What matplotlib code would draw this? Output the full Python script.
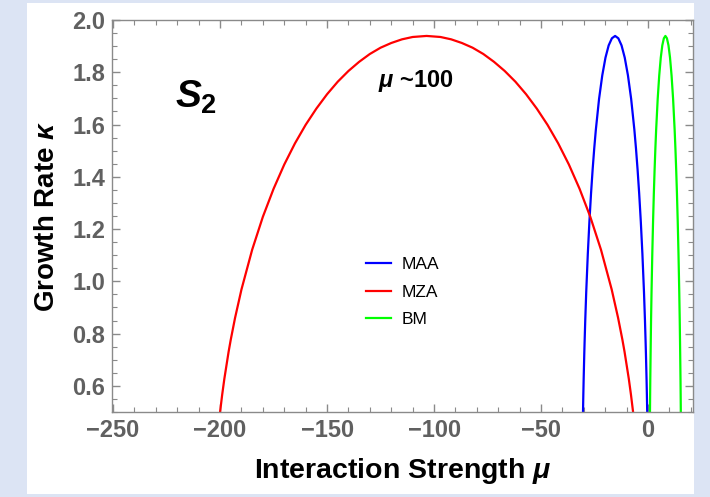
import matplotlib
matplotlib.use("Agg")
import matplotlib.pyplot as plt
from matplotlib.patches import Rectangle

plt.rcParams['font.family'] = ['Liberation Sans', 'DejaVu Sans']
plt.rcParams['mathtext.fontset'] = 'custom'
plt.rcParams['mathtext.it'] = 'Liberation Sans:italic:bold'
plt.rcParams['mathtext.rm'] = 'Liberation Sans:bold'
plt.rcParams['mathtext.bf'] = 'Liberation Sans:bold'

# growth rate curves
mu_mza = [-200, -199, -198, -196, -195, -193, -190, -185, -180, -175, -170, -165,
          -160, -155, -150, -145, -140, -135, -130, -125, -120, -115, -110, -103.5,
          -97, -92, -87, -82, -77, -72, -67, -62, -57, -52, -47, -42, -37, -32,
          -27, -22, -17, -14, -12, -11, -9, -8, -7]
kappa_mza = [0.50, 0.567, 0.627, 0.731, 0.777, 0.860, 0.969, 1.121, 1.247, 1.354,
             1.447, 1.528, 1.599, 1.661, 1.716, 1.764, 1.805, 1.840, 1.870, 1.894,
             1.912, 1.926, 1.935, 1.939,
             1.935, 1.926, 1.912, 1.894, 1.870, 1.840, 1.805, 1.764, 1.716, 1.661,
             1.599, 1.528, 1.447, 1.354, 1.247, 1.121, 0.969, 0.860, 0.777, 0.731,
             0.627, 0.567, 0.50]

mu_maa = [-30.4, -30.25, -30.1, -29.8, -29.65, -29.35, -28.9, -28.15, -27.4, -26.65,
          -25.9, -25.15, -24.4, -22.9, -21.4, -19.9, -18.4, -16.9, -15.4, -13.9,
          -12.4, -10.9, -9.4, -7.9, -6.4, -5.65, -4.9, -4.15, -3.4, -2.65, -1.9,
          -1.45, -1.15, -1.0, -0.7, -0.55, -0.4]
kappa_maa = [0.50, 0.566, 0.624, 0.725, 0.769, 0.851, 0.958, 1.106, 1.230, 1.336,
             1.428, 1.509, 1.580, 1.698, 1.788, 1.856, 1.903, 1.930, 1.939, 1.930,
             1.903, 1.856, 1.788, 1.698, 1.580, 1.509, 1.428, 1.336, 1.230, 1.106,
             0.958, 0.851, 0.769, 0.725, 0.624, 0.566, 0.50]

mu_bm = [0.9, 0.97, 1.04, 1.19, 1.26, 1.40, 1.62, 1.98, 2.34, 2.7, 3.06, 3.42, 3.78,
         4.5, 5.22, 5.94, 6.66, 7.38, 8.1, 8.82, 9.54, 10.26, 10.98, 11.7, 12.42,
         12.78, 13.14, 13.5, 13.86, 14.22, 14.58, 14.8, 14.94, 15.01, 15.16, 15.23, 15.3]
kappa_bm = [0.50, 0.566, 0.624, 0.725, 0.769, 0.851, 0.958, 1.106, 1.230, 1.336,
            1.428, 1.509, 1.580, 1.698, 1.788, 1.856, 1.903, 1.930, 1.939, 1.930,
            1.903, 1.856, 1.788, 1.698, 1.580, 1.509, 1.428, 1.336, 1.230, 1.106,
            0.958, 0.851, 0.769, 0.725, 0.624, 0.566, 0.50]

fig = plt.figure(figsize=(7.1, 4.97), dpi=100)
fig.patch.set_facecolor('#dce4f4')
fig.patches.append(Rectangle((27/710, 3/497), 667/710, 491/497, transform=fig.transFigure,
                             facecolor='white', edgecolor='none', zorder=-10))

ax = fig.add_axes([112/710, (497-412)/497, 581/710, 392/497])
ax.set_zorder(1)
ax.plot(mu_maa, kappa_maa, color='blue', lw=1.6, label='MAA')
ax.plot(mu_mza, kappa_mza, color='red', lw=1.6, label='MZA')
ax.plot(mu_bm, kappa_bm, color='lime', lw=1.6, label='BM')

ax.set_xlim(-250.5, 21)
ax.set_ylim(0.5, 2.0)
ax.set_xticks([-250, -200, -150, -100, -50, 0])
ax.set_xticklabels(['\u2212250', '\u2212200', '\u2212150', '\u2212100', '\u221250', '0'])
ax.set_xticks(range(-250, 21, 10), minor=True)
ax.set_yticks([0.6, 0.8, 1.0, 1.2, 1.4, 1.6, 1.8, 2.0])
ax.set_yticks([0.5 + 0.05 * i for i in range(31)], minor=True)

for s in ax.spines.values():
    s.set_color('#8a8a8a')
    s.set_linewidth(1.0)
ax.tick_params(which='both', direction='in', top=True, right=True, color='#8a8a8a')
ax.tick_params(which='major', length=6, width=1.0, labelsize=17, labelcolor='#606060', pad=5)
ax.tick_params(which='minor', length=3.5, width=0.8)
for lab in ax.get_xticklabels() + ax.get_yticklabels():
    lab.set_fontweight('bold')

ax.set_xlabel(r'Interaction Strength $\mu$', fontsize=20.5, fontweight='bold', labelpad=10)
ax.set_ylabel(r'Growth Rate $\kappa$', fontsize=20, fontweight='bold', labelpad=9)

ax.text(-221, 1.663, r'$S_2$', fontsize=28, ha='left', va='baseline')
ax.text(-126, 1.744, r'$\mu$ ~100', fontsize=17, fontweight='bold', ha='left', va='baseline')

ax.legend(loc='center left', bbox_to_anchor=(0.41, 0.306), frameon=False, fontsize=12.5,
          handlelength=1.45, handletextpad=0.6, labelspacing=0.7)

fig.savefig('out.png', dpi=100, facecolor=fig.get_facecolor())
